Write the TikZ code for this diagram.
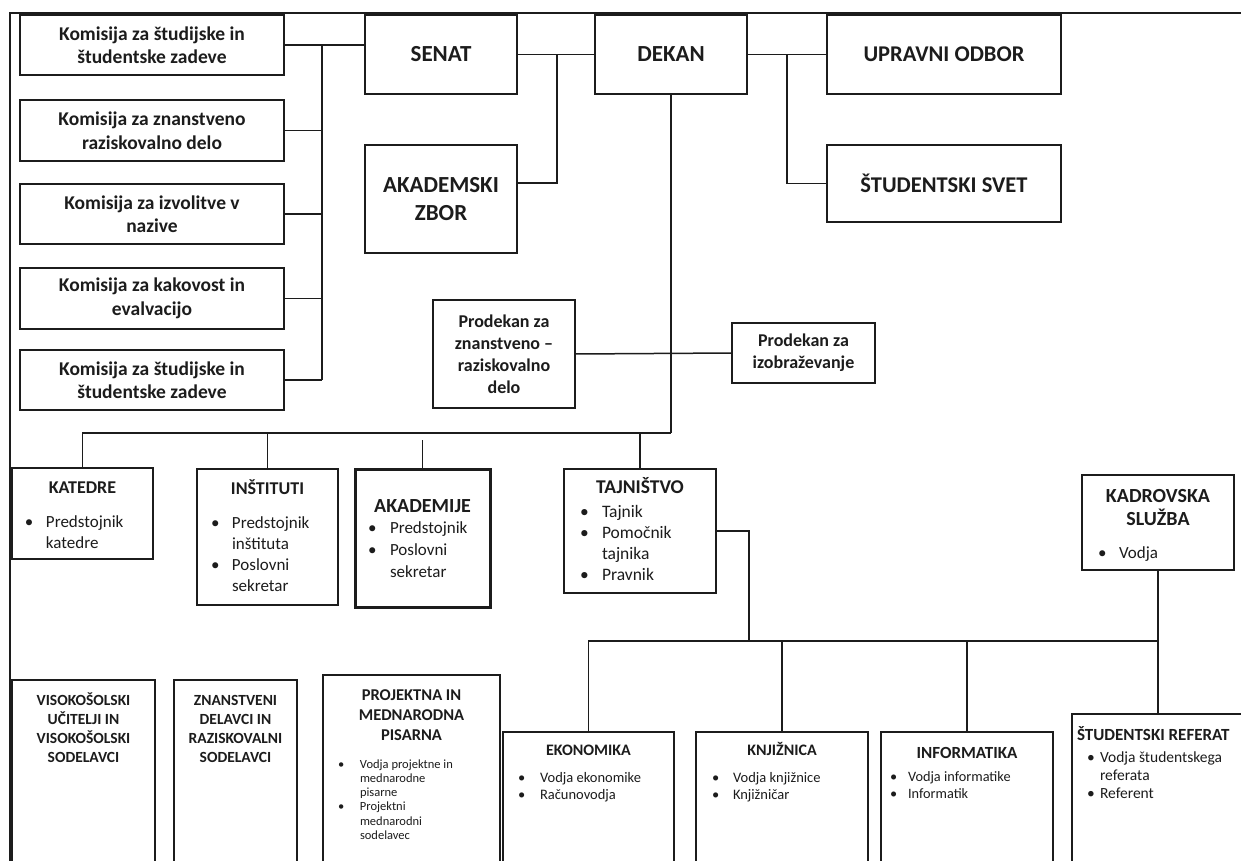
\documentclass[tikz,border=0pt]{standalone}
\usepackage{fontspec}
\setmainfont{Carlito}
\usetikzlibrary{calc}
\definecolor{ink}{HTML}{1C1C1C}
\newcommand{\mytopbox}[4]{\parbox[c][#2][t]{#1}{\lineskiplimit=-100pt\parskip=0pt\vspace*{#3}#4}}
\newcommand{\bitem}[3]{\strut\hspace*{#1}\makebox[#2][l]{\textbullet}#3}
\newcommand{\bcont}[2]{\strut\hspace*{#1}#2}
\newcommand{\hdg}[3]{{\fontsize{#1}{#2}\selectfont\bfseries\centering #3\par}}
\tikzset{
  box/.style={draw=ink, line width=1.5pt, inner sep=0pt, outer sep=0pt, anchor=north west, fill=white, text=ink},
  cbox/.style={box, align=center},
  conn/.style={draw=ink, line width=1.5pt},
}
\begin{document}
\begin{tikzpicture}[x=1pt,y=-1pt]
\useasboundingbox (0,0) rectangle (1241,861);
\clip (0,0) rectangle (1241,861);
\fill[white] (0,0) rectangle (1241,861);
% frame
\draw[ink, line width=2.2pt] (10,870) -- (10,13) -- (1250,13);

% commissions
\node[cbox, minimum width=264pt, minimum height=60pt, font=\fontsize{19.5}{23.5}\selectfont\bfseries] (k1) at (20,15) {Komisija za študijske in\\študentske zadeve};
\node[cbox, minimum width=264pt, minimum height=61pt, font=\fontsize{19.5}{23.5}\selectfont\bfseries] (k2) at (20,100) {Komisija za znanstveno\\raziskovalno delo};
\node[cbox, minimum width=264pt, minimum height=60pt, font=\fontsize{19.5}{23.5}\selectfont\bfseries] (k3) at (20,184) {Komisija za izvolitve v\\nazive};
\node[cbox, minimum width=264pt, minimum height=61pt, font=\fontsize{19.5}{23.5}\selectfont\bfseries] (k4) at (20,268) {Komisija za kakovost in\\evalvacijo};
\node[cbox, minimum width=264pt, minimum height=60pt, font=\fontsize{19.5}{23.5}\selectfont\bfseries] (k5) at (20,350) {Komisija za študijske in\\študentske zadeve};

% top row
\node[cbox, minimum width=152pt, minimum height=79pt, font=\fontsize{23}{28}\selectfont\bfseries] (senat) at (365,15) {SENAT};
\node[cbox, minimum width=152pt, minimum height=108pt, font=\fontsize{23}{28.5}\selectfont\bfseries] (zbor) at (365,145) {AKADEMSKI\\ZBOR};
\node[cbox, minimum width=152pt, minimum height=79pt, font=\fontsize{23}{28}\selectfont\bfseries] (dekan) at (595,15) {DEKAN};
\node[cbox, minimum width=234pt, minimum height=79pt, font=\fontsize{22.5}{27}\selectfont\bfseries] (upravni) at (827,15) {UPRAVNI ODBOR};
\node[cbox, minimum width=234pt, minimum height=77pt, font=\fontsize{22.5}{27}\selectfont\bfseries] (svet) at (827,145) {ŠTUDENTSKI SVET};

% prodekans
\node[cbox, minimum width=142pt, minimum height=108pt, font=\fontsize{18}{22}\selectfont\bfseries] (pz) at (433,300) {Prodekan za\\znanstveno –\\raziskovalno\\delo};
\node[cbox, minimum width=143pt, minimum height=60pt, font=\fontsize{18}{22}\selectfont\bfseries] (pi) at (732,323) {Prodekan za\\izobraževanje};

% middle row
\node[box] (katedre) at (12,468) {\mytopbox{141pt}{91pt}{9.6pt}{%
  \hdg{18}{22}{\strut KATEDRE}\vspace{13pt}%
  {\fontsize{17}{21}\selectfont\raggedright\bitem{13pt}{21pt}{Predstojnik}\\\bcont{34pt}{katedre}\par}}};
\node[box] (inst) at (197,469) {\mytopbox{141pt}{136pt}{9.6pt}{%
  \hdg{18}{22}{\strut INŠTITUTI}\vspace{13pt}%
  {\fontsize{17}{21}\selectfont\raggedright\bitem{14pt}{21pt}{Predstojnik}\\\bcont{35pt}{inštituta}\\\bitem{14pt}{21pt}{Poslovni}\\\bcont{35pt}{sekretar}\par}}};
\node[box, line width=3pt] (akad) at (355,469) {\mytopbox{135pt}{138pt}{26.2pt}{%
  \hdg{20}{24}{\strut AKADEMIJE}\vspace{-1pt}%
  {\fontsize{17}{22}\selectfont\raggedright\bitem{13pt}{22pt}{Predstojnik}\\\bitem{13pt}{22pt}{Poslovni}\\\bcont{35pt}{sekretar}\par}}};
\node[box] (taj) at (564,469) {\mytopbox{152pt}{124pt}{7.2pt}{%
  \hdg{19.5}{24}{\strut TAJNIŠTVO}\vspace{2.7pt}%
  {\fontsize{17.5}{21.3}\selectfont\raggedright\bitem{16pt}{22pt}{Tajnik}\\\bitem{16pt}{22pt}{Pomočnik}\\\bcont{38pt}{tajnika}\\\bitem{16pt}{22pt}{Pravnik}\par}}};
\node[box] (kad) at (1082,475) {\mytopbox{152pt}{95pt}{10.9pt}{%
  \hdg{20}{23}{\strut KADROVSKA\\\strut SLUŽBA}\vspace{12pt}%
  {\fontsize{17}{21}\selectfont\raggedright\bitem{16pt}{21pt}{Vodja}\par}}};

% bottom row
\node[box] (vis) at (12,680) {\mytopbox{143pt}{195pt}{11.5pt}{%
  \hdg{15.5}{19.3}{\strut VISOKOŠOLSKI\\\strut UČITELJI IN\\\strut VISOKOŠOLSKI\\\strut SODELAVCI}}};
\node[box] (zn) at (174,680) {\mytopbox{123pt}{195pt}{11.5pt}{%
  \hdg{15.5}{19.3}{\strut ZNANSTVENI\\\strut DELAVCI IN\\\strut RAZISKOVALNI\\\strut SODELAVCI}}};
\node[box] (proj) at (323,675) {\mytopbox{177pt}{200pt}{11pt}{%
  \hdg{16.5}{20}{\strut PROJEKTNA IN\\\strut MEDNARODNA\\\strut PISARNA}\vspace{13.7pt}%
  {\fontsize{12.5}{14.3}\selectfont\raggedright\bitem{15pt}{22pt}{Vodja projektne in}\\\bcont{37pt}{mednarodne}\\\bcont{37pt}{pisarne}\\\bitem{15pt}{22pt}{Projektni}\\\bcont{37pt}{mednarodni}\\\bcont{37pt}{sodelavec}\par}}};
\node[box] (ek) at (503,732) {\mytopbox{171pt}{140pt}{9pt}{%
  \hdg{16}{20}{\strut EKONOMIKA}\vspace{9.5pt}%
  {\fontsize{14.5}{17.5}\selectfont\raggedright\bitem{15pt}{22pt}{Vodja ekonomike}\\\bitem{15pt}{22pt}{Računovodja}\par}}};
\node[box] (kn) at (696,732) {\mytopbox{172pt}{140pt}{9pt}{%
  \hdg{16}{20}{\strut KNJIŽNICA}\vspace{9.5pt}%
  {\fontsize{14.5}{17.5}\selectfont\raggedright\bitem{16pt}{21pt}{Vodja knjižnice}\\\bitem{16pt}{21pt}{Knjižničar}\par}}};
\node[box] (inf) at (881,732) {\mytopbox{172pt}{140pt}{11.3pt}{%
  \hdg{17}{21}{\strut INFORMATIKA}\vspace{6pt}%
  {\fontsize{14.3}{17}\selectfont\raggedright\bitem{9pt}{18pt}{Vodja informatike}\\\bitem{9pt}{18pt}{Informatik}\par}}};
\node[box] (ref) at (1072,714) {\mytopbox{172pt}{160pt}{11.3pt}{%
  {\fontsize{17}{21}\selectfont\bfseries\raggedright\strut\hspace*{5pt}ŠTUDENTSKI REFERAT\par}\vspace{4pt}%
  {\fontsize{15.5}{18}\selectfont\raggedright\bitem{15pt}{13pt}{Vodja študentskega}\\\bcont{28pt}{referata}\\\bitem{15pt}{13pt}{Referent}\par}}};

% connectors
\coordinate (kbus) at (322,0);
\draw[conn] (k1.east) -- (senat.west |- k1.east);
\draw[conn] (k2.east) -- (k2.east -| kbus);
\draw[conn] (k3.east) -- (k3.east -| kbus);
\draw[conn] (k4.east) -- (k4.east -| kbus);
\draw[conn] (k5.east) -- (k5.east -| kbus);
\draw[conn] (k1.east -| kbus) -- (k5.east -| kbus);

\coordinate (sbus) at (557,0);
\coordinate (zc) at ($(zbor.north east)!0.35!(zbor.south east)$);
\draw[conn] (senat.east) -- (dekan.west);
\draw[conn] (senat.east -| sbus) |- (zc);

\coordinate (dbus) at (787,0);
\draw[conn] (dekan.east) -- (upravni.west);
\draw[conn] (dekan.east -| dbus) |- (svet.west);

\coordinate (h1) at (0,433);
\draw[conn, line width=1.1pt] (dekan.south) -- (dekan.south |- h1);
\draw[conn] (pz.east) -- (pi.west);
\draw[conn] (katedre.north) -- (katedre.north |- h1) -- (dekan.south |- h1);
\draw[conn] (inst.north) -- (inst.north |- h1);
\draw[conn] (taj.north) -- (taj.north |- h1);
\coordinate (akgap) at (422.5,440);
\draw[conn] (akad.north) -- (akgap);

\coordinate (tbus) at (749,0);
\coordinate (h2) at (0,641);
\draw[conn] (taj.east) -| (tbus |- h2);
\draw[conn] (ek.north) -- (ek.north |- h2) -- (ref.north |- h2);
\draw[conn] (kn.north) -- (kn.north |- h2);
\draw[conn] (inf.north) -- (inf.north |- h2);
\draw[conn] (kad.south) -- (ref.north);
\end{tikzpicture}
\end{document}
